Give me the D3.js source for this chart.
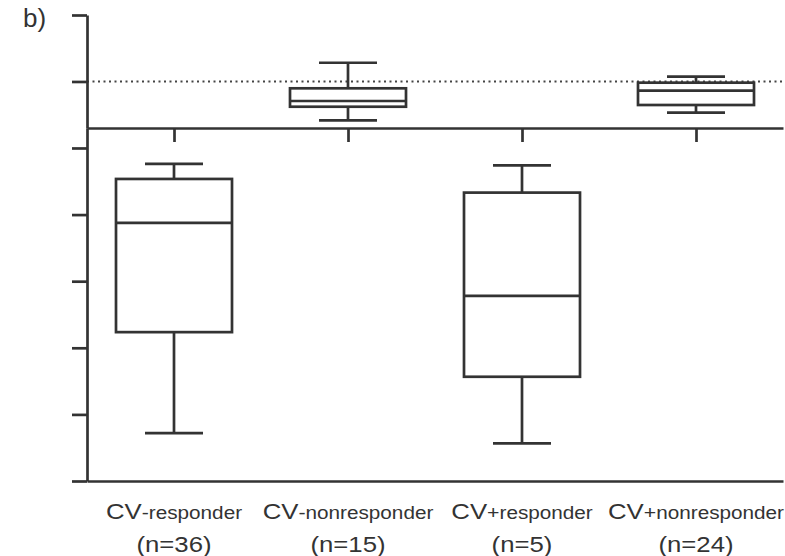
<!DOCTYPE html>
<html>
<head>
<meta charset="utf-8">
<script src="https://cdn.jsdelivr.net/npm/d3@7"></script>
<style>
  body { margin: 0; background: #fff; }
  text { font-family: "Liberation Sans", Arial, sans-serif; fill: #333; }
</style>
</head>
<body>
<svg id="chart" width="785" height="556"></svg>
<script>
// data
const categories = ["CV-responder", "CV-nonresponder", "CV+responder", "CV+nonresponder"]
const prefixes = ["CV", "CV", "CV", "CV"]
const signs = ["-", "-", "+", "+"]
const suffixes = ["responder", "nonresponder", "responder", "nonresponder"]
const counts = [36, 15, 5, 24]
const panels = ["bottom", "top", "bottom", "top"]
const whiskerLow = [14.4, 41.6, 11.3, 53.0]
const q1 = [44.7, 62.0, 31.3, 64.6]
const median = [77.5, 70.6, 55.6, 86.1]
const q3 = [90.7, 89.7, 86.6, 98.2]
const whiskerHigh = [95.2, 128.2, 94.8, 107.2]
const bottomTicks = [0, 20, 40, 60, 80, 100]
const topTicks = [100, 200]
const referenceValue = 100

const ink = "#333"
const lw = 2.7

const svg = d3.select("#chart")

const x = d3.scalePoint()
    .domain(categories)
    .range([87, 783])
    .padding(0.5)

const yBot = d3.scaleLinear().domain([0, 106]).range([481, 128])
const yTop = d3.scaleLinear().domain([30, 200]).range([128, 15])

const boxW = x.step() * 2 / 3
const capW = boxW / 2

function styleAxis(g) {
    g.selectAll("path, line").attr("stroke", ink).attr("stroke-width", lw)
    g.selectAll("text").remove()
}

// reference dotted line
svg.append("line")
    .attr("x1", 87).attr("x2", 783)
    .attr("y1", yTop(referenceValue)).attr("y2", yTop(referenceValue))
    .attr("stroke", "#444")
    .attr("stroke-width", 2)
    .attr("stroke-dasharray", "2,3.5")

// axes
svg.append("g")
    .attr("transform", "translate(87,0)")
    .call(d3.axisLeft(yBot).tickValues(bottomTicks).tickSize(15).tickSizeOuter(0).tickFormat(""))
    .call(styleAxis)

svg.append("g")
    .attr("transform", "translate(87,0)")
    .call(d3.axisLeft(yTop).tickValues(topTicks).tickSize(15).tickSizeOuter(0).tickFormat(""))
    .call(styleAxis)

svg.append("g")
    .attr("transform", "translate(0," + yTop.range()[0] + ")")
    .call(d3.axisBottom(x).tickSize(14).tickSizeOuter(0).tickFormat(""))
    .call(styleAxis)

svg.append("g")
    .attr("transform", "translate(0," + yBot.range()[0] + ")")
    .call(d3.axisBottom(x).tickSize(0).tickSizeOuter(0).tickFormat(""))
    .call(styleAxis)

// boxes
const rows = categories.map((c, i) => ({
    cat: c,
    y: panels[i] === "top" ? yTop : yBot,
    lo: whiskerLow[i], q1: q1[i], med: median[i], q3: q3[i], hi: whiskerHigh[i]
}))

const boxes = svg.append("g").selectAll("g")
    .data(rows)
    .join("g")
    .attr("transform", d => "translate(" + x(d.cat) + ",0)")
    .attr("stroke", ink)
    .attr("stroke-width", lw)
    .attr("fill", "none")

boxes.append("line")
    .attr("y1", d => d.y(d.hi)).attr("y2", d => d.y(d.q3))
boxes.append("line")
    .attr("y1", d => d.y(d.q1)).attr("y2", d => d.y(d.lo))
boxes.append("line")
    .attr("x1", -capW / 2).attr("x2", capW / 2)
    .attr("y1", d => d.y(d.hi)).attr("y2", d => d.y(d.hi))
boxes.append("line")
    .attr("x1", -capW / 2).attr("x2", capW / 2)
    .attr("y1", d => d.y(d.lo)).attr("y2", d => d.y(d.lo))
boxes.append("rect")
    .attr("x", -boxW / 2).attr("width", boxW)
    .attr("y", d => d.y(d.q3))
    .attr("height", d => d.y(d.q1) - d.y(d.q3))
boxes.append("line")
    .attr("x1", -boxW / 2).attr("x2", boxW / 2)
    .attr("y1", d => d.y(d.med)).attr("y2", d => d.y(d.med))

// category labels
const labels = svg.append("g").selectAll("g")
    .data(categories)
    .join("g")
    .attr("transform", d => "translate(" + x(d) + ",519) scale(1.12,1)")

const line1 = labels.append("text").attr("text-anchor", "middle")
line1.append("tspan").attr("font-size", 23).text((d, i) => prefixes[i])
line1.append("tspan").attr("font-size", 19).text((d, i) => signs[i])
line1.append("tspan").attr("font-size", 18.5).text((d, i) => suffixes[i])

labels.append("text")
    .attr("text-anchor", "middle")
    .attr("y", 33)
    .attr("font-size", 23)
    .text((d, i) => "(n=" + counts[i] + ")")

// panel letter
svg.append("text")
    .attr("x", 23).attr("y", 27)
    .attr("font-size", 26)
    .text("b)")
</script>
</body>
</html>
